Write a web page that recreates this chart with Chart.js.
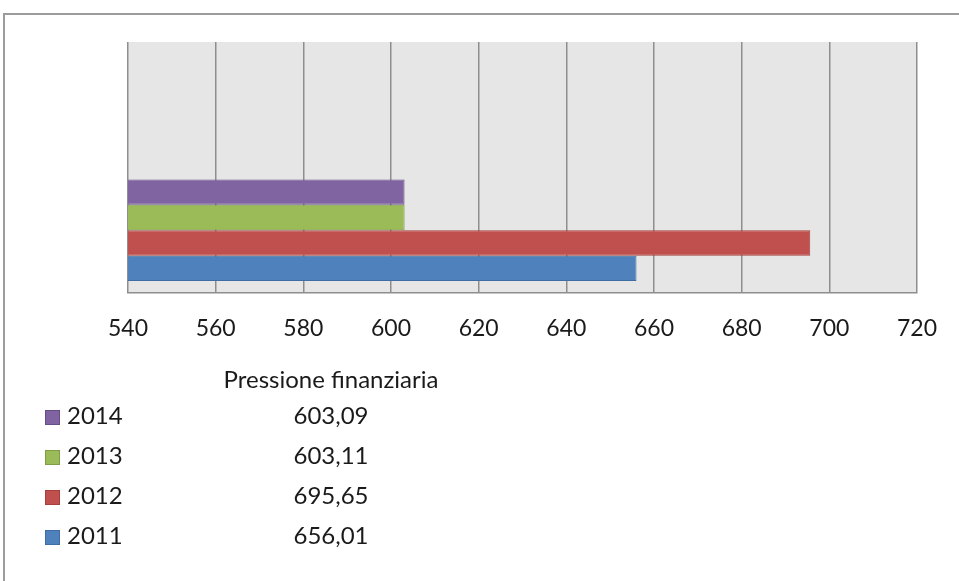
<!DOCTYPE html>
<html>
<head>
<meta charset="utf-8">
<script src="https://cdn.jsdelivr.net/npm/chart.js@4"></script>
<style>
  body { margin:0; background:#fff; overflow:hidden; font-family: Lato, "Noto Sans", sans-serif; }
  #wrap { position:relative; width:959px; height:581px; }
  #frame { position:absolute; left:3px; top:13px; width:1000px; height:700px; border:2px solid #9c9c9c; box-sizing:border-box; }
  #c { position:absolute; left:0; top:0; }
  #table { position:absolute; left:0; top:0; width:959px; height:581px; pointer-events:none; color:#1a1a1a; font-size:24px; }
  .hdr { position:absolute; top:364px; left:331px; transform:translateX(-50%); white-space:nowrap; }
  .row { position:absolute; left:45px; height:28px; line-height:28px; white-space:nowrap; }
  .sw { display:inline-block; width:15px; height:15px; margin-right:7px; vertical-align:-1px; box-sizing:border-box; border:1px solid; }
  .val { position:absolute; left:331px; transform:translateX(-50%); height:28px; line-height:28px; }
</style>
</head>
<body>
<div id="wrap">
  <div id="frame"></div>
  <canvas id="c" width="959" height="581"></canvas>
  <div id="table"></div>
</div>
<script>
// Pressione finanziaria per anno
const years = ['2011', '2012', '2013', '2014'];
const values = [656.01, 695.65, 603.11, 603.09];
const valueLabels = ['656,01', '695,65', '603,11', '603,09'];
const fills = ['#4F81BD', '#C0504D', '#9BBB59', '#8064A2'];
const edges = ['#3F6DA3', '#A63F3C', '#7F9D45', '#654E86'];
const categories = ['', 'Pressione finanziaria'];
const xTicks = [540, 560, 580, 600, 620, 640, 660, 680, 700, 720];

// first series sits lowest, so datasets are added from the last year down
const datasets = years.map((y, i) => ({
  label: y,
  data: [null, values[i]],
  backgroundColor: fills[i],
  borderColor: edges[i],
  borderWidth: 1,
  borderSkipped: false,
  categoryPercentage: 0.81,
  barPercentage: 1.0
})).reverse();

const plotBg = {
  id: 'plotBg',
  beforeDraw(chart) {
    const {ctx, chartArea: a} = chart;
    ctx.save();
    ctx.fillStyle = '#E6E6E6';
    ctx.fillRect(a.left, a.top, a.right - a.left, a.bottom - a.top);
    ctx.restore();
  }
};

new Chart(document.getElementById('c'), {
  type: 'bar',
  data: { labels: categories, datasets },
  options: {
    indexAxis: 'y',
    responsive: false,
    animation: false,
    layout: { padding: { left: 128, top: 42, right: 40, bottom: 238 } },
    plugins: { legend: { display: false }, tooltip: { enabled: false } },
    scales: {
      x: {
        min: 540, max: 720,
        afterBuildTicks: s => { s.ticks = xTicks.map(v => ({ value: v })); },
        afterFit: s => { s.height = 50; },
        grid: { color: '#8E8E8E', lineWidth: 1.5, drawTicks: false },
        border: { color: '#8E8E8E', width: 1.5 },
        ticks: { padding: 22, color: '#1a1a1a', font: { family: 'Lato', size: 23 } }
      },
      y: { display: false }
    }
  },
  plugins: [plotBg]
});

// data table under the plot, listed from the newest year
const table = document.getElementById('table');
table.innerHTML = '<div class="hdr">Pressione finanziaria</div>';
for (let r = 0; r < years.length; r++) {
  const i = years.length - 1 - r;
  const top = 401 + r * 40;
  table.innerHTML +=
    `<div class="row" style="top:${top}px"><span class="sw" style="background:${fills[i]};border-color:${edges[i]}"></span>${years[i]}</div>` +
    `<div class="val" style="top:${top}px">${valueLabels[i]}</div>`;
}
</script>
</body>
</html>
